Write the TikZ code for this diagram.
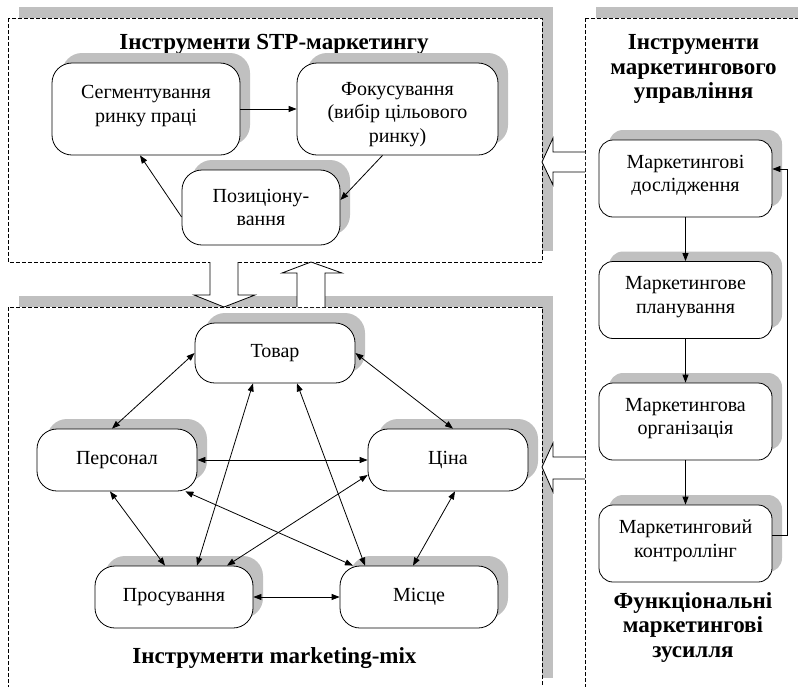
\documentclass[tikz,border=0pt]{standalone}
\usepackage{fontspec}
\setmainfont{Liberation Serif}
\usetikzlibrary{shadows,arrows.meta}
\definecolor{shadowgray}{RGB}{192,192,192}
\begin{document}
\begin{tikzpicture}[x=1pt,y=-1pt,
  every node/.style={inner sep=0pt},
  box/.style={draw, line width=0.8pt, fill=white, rounded corners=20pt, align=center,
    font=\fontsize{20}{23.5}\selectfont,
    general shadow={fill=shadowgray, shadow xshift=10pt, shadow yshift=10pt}},
  mbox/.style={box, rounded corners=14pt, minimum width=173pt, minimum height=77pt, text depth=10pt},
  title/.style={font=\bfseries\fontsize{23}{24.5}\selectfont, align=center},
  frame/.style={draw, line width=0.8pt, dash pattern=on 4pt off 2pt, fill=white},
  hollow/.style={draw, line width=0.8pt, fill=white},
  con/.style={line width=0.8pt, -{Triangle[length=8pt,width=6pt]}},
  bicon/.style={line width=0.8pt, {Triangle[length=8pt,width=6pt]}-{Triangle[length=8pt,width=6pt]}}
]
\useasboundingbox (0,0) rectangle (798,686);
\clip (0,0) rectangle (798,686);
% frames
\fill[shadowgray] (19,7) rectangle (553,251);
\path[frame] (8,18) rectangle (542,262);
\fill[shadowgray] (19,296) rectangle (553,678);
\path[frame] (8,307) rectangle (542,700);
\fill[shadowgray] (596,7) rectangle (820,700);
\path[frame] (585,18) rectangle (810,710);

% titles
\node[title, anchor=base] (t1) at (274,49) {Інструменти STP-маркетингу};
\node[title, anchor=base] (t2) at (274.5,663) {Інструменти marketing-mix};
\node[title] (t3) at (693.5,69) {Інструменти\\маркетингового\\управління};
\node[title] (t4) at (693,627) {Функціональні\\маркетингові\\зусилля};

% STP nodes
\node[box, minimum width=188pt, minimum height=92pt, text depth=10pt] (segm) at (146,109) {Сегментування\\ринку праці};
\node[box, minimum width=201pt, minimum height=92pt, text height=71pt] (fokus) at (397.5,109) {Фокусування\\(вибір цільового\\ринку)};
\node[box, minimum width=158pt, minimum height=75pt] (pozic) at (261,207.5) {Позиціону-\\вання};

\draw[con] (segm.east) -- (fokus.west);
\draw[con] ([xshift=-15pt]fokus.south) -- ([yshift=7.5pt]pozic.east);
\draw[con] ([yshift=-9.5pt]pozic.west) -- ([xshift=-6pt]segm.south);

% marketing mix nodes
\node[box, minimum width=160pt, minimum height=60pt] (tovar) at (275,353) {Товар};
\node[box, minimum width=160pt, minimum height=62pt] (pers) at (117,460) {Персонал};
\node[box, minimum width=160pt, minimum height=62pt] (cina) at (448,460) {Ціна};
\node[box, minimum width=158pt, minimum height=62pt] (prosuv) at (174,597) {Просування};
\node[box, minimum width=158pt, minimum height=62pt] (misce) at (419,597) {Місце};

\draw[bicon] (tovar.west) -- ([xshift=-5pt]pers.north);
\draw[bicon] (tovar.east) -- ([xshift=5pt]cina.north);
\draw[bicon] ([xshift=-22pt]tovar.south) -- ([xshift=23pt]prosuv.north);
\draw[bicon] ([xshift=22pt]tovar.south) -- ([xshift=-54pt]misce.north);
\draw[bicon] (pers.east) -- (cina.west);
\draw[bicon] ([xshift=-7pt]pers.south) -- ([xshift=-9pt]prosuv.north);
\draw[bicon] ([xshift=-12pt]pers.south east) -- ([xshift=-66pt]misce.north);
\draw[bicon] ([yshift=-15pt]cina.west) -- ([xshift=53pt]prosuv.north);
\draw[bicon] ([xshift=7pt]cina.south) -- ([xshift=-6pt]misce.north);
\draw[bicon] (prosuv.east) -- (misce.west);

% management nodes
\node[mbox] (m1) at (685.5,178.5) {Маркетингові\\дослідження};
\node[mbox] (m2) at (685.5,300) {Маркетингове\\планування};
\node[mbox] (m3) at (685.5,421.5) {Маркетингова\\організація};
\node[mbox] (m4) at (685.5,543.5) {Маркетинговий\\контроллінг};
\draw[con] (m1) -- (m2);
\draw[con] (m2) -- (m3);
\draw[con] (m3) -- (m4);
\coordinate (fb) at (787,535);
\draw[con] ([yshift=8.5pt]m4.east) -- (fb) |- ([yshift=9.5pt]m1.east);

% hollow arrows
\path[hollow] (210,262) -- (210,295) -- (194,295) -- (224,307) -- (255,295) -- (238,295) -- (238,262);
\path[hollow] (297,307) -- (297,273) -- (282,273) -- (311,262) -- (342,273) -- (325,273) -- (325,307);
\path[hollow] (585,152) -- (553,152) -- (553,138) -- (542,162) -- (553,185) -- (553,172) -- (585,172);
\path[hollow] (585,457) -- (553,457) -- (553,443) -- (542,467) -- (553,492) -- (553,479) -- (585,479);
\end{tikzpicture}
\end{document}
